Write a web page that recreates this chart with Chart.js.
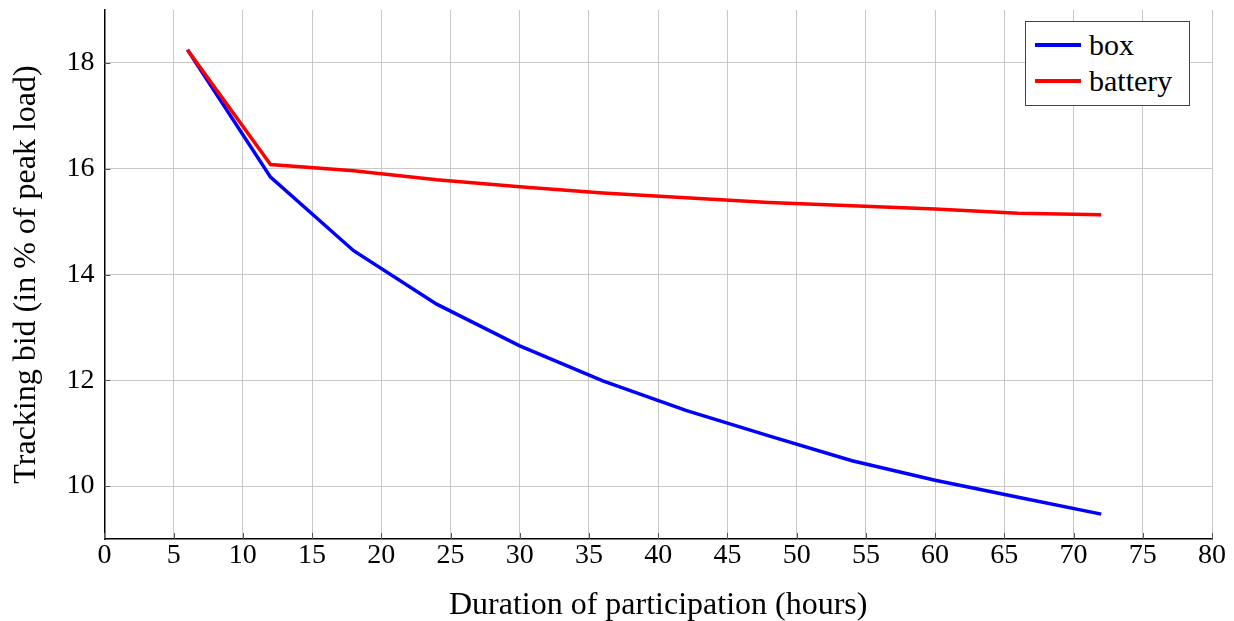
<!DOCTYPE html>
<html>
<head>
<meta charset="utf-8">
<script src="https://cdn.jsdelivr.net/npm/chart.js@4.4.1/dist/chart.umd.min.js"></script>
<style>
  body { margin:0; background:#fff; }
  #wrap { position:relative; width:1234px; height:621px; }
  #legend { position:absolute; left:1025px; top:21px; width:165px; height:85px; box-sizing:border-box;
            border:1px solid #444; background:#fff; padding:5px 0 0 9px;
            font-family:"Liberation Serif", serif; font-size:30px; color:#000; }
  #legend .row { display:flex; align-items:center; height:36px; }
  #legend .sw { width:46px; height:4px; margin-right:8px; }
</style>
</head>
<body>
<div id="wrap">
  <canvas id="chart"></canvas>
  <div id="legend"></div>
</div>
<script>
// hours of participation
const hours = [6, 12, 18, 24, 30, 36, 42, 48, 54, 60, 66, 72];
// tracking bid, % of peak load
const boxBid     = [18.25, 15.84, 14.45, 13.44, 12.65, 11.99, 11.43, 10.95, 10.48, 10.11, 9.79, 9.47];
const batteryBid = [18.25, 16.08, 15.96, 15.79, 15.66, 15.54, 15.45, 15.36, 15.30, 15.24, 15.16, 15.13];
const yTicks = [10, 12, 14, 16, 18];

const FONT = '"Liberation Serif", "Times New Roman", serif';

// inward tick marks, like pgfplots
const innerTicks = {
  id: 'innerTicks',
  afterDatasetsDraw(chart) {
    const { ctx, chartArea: a, scales: { x, y } } = chart;
    ctx.save();
    ctx.strokeStyle = '#555';
    ctx.lineWidth = 1;
    ctx.beginPath();
    x.ticks.forEach(t => { const px = Math.round(x.getPixelForValue(t.value)) + 0.5; ctx.moveTo(px, a.bottom); ctx.lineTo(px, a.bottom - 6); });
    y.ticks.forEach(t => { const py = Math.round(y.getPixelForValue(t.value)) + 0.5; ctx.moveTo(a.left, py); ctx.lineTo(a.left + 6, py); });
    ctx.stroke();
    ctx.restore();
  }
};

const chart = new Chart(document.getElementById('chart'), {
  type: 'line',
  data: {
    labels: hours,
    datasets: [
      { label: 'box', data: hours.map((h, i) => ({ x: h, y: boxBid[i] })), borderColor: '#0000ff', borderWidth: 3.5, pointRadius: 0, tension: 0, order: 1 },
      { label: 'battery', data: hours.map((h, i) => ({ x: h, y: batteryBid[i] })), borderColor: '#ff0000', borderWidth: 3.5, pointRadius: 0, tension: 0, order: 0 }
    ]
  },
  options: {
    responsive: true, maintainAspectRatio: false, animation: false,
    layout: { padding: { top: 10, right: 22, bottom: -4, left: 5 } },
    plugins: { legend: { display: false }, tooltip: { enabled: false } },
    scales: {
      x: {
        type: 'linear', min: 0, max: 80,
        ticks: { stepSize: 5, color: '#000', font: { family: FONT, size: 28 }, padding: 0 },
        grid: { color: '#c8c8c8', drawTicks: false },
        border: { color: '#000', width: 1.5 },
        title: { display: true, text: 'Duration of participation (hours)', color: '#000', font: { family: FONT, size: 32 }, padding: { top: 14, bottom: 0 } }
      },
      y: {
        min: 9, max: 19,
        afterBuildTicks: s => { s.ticks = yTicks.map(v => ({ value: v })); },
        afterFit: s => { s.paddingTop = 0; s.paddingBottom = 0; },
        ticks: { color: '#000', font: { family: FONT, size: 28 }, padding: 10 },
        grid: { color: '#c8c8c8', drawTicks: false },
        border: { color: '#000', width: 1.5 },
        title: { display: true, text: 'Tracking bid (in % of peak load)', color: '#000', font: { family: FONT, size: 32 }, padding: { top: 2, bottom: 11 } }
      }
    }
  },
  plugins: [innerTicks]
});

document.getElementById('legend').innerHTML = chart.data.datasets.map(d =>
  `<div class="row"><span class="sw" style="background:${d.borderColor}"></span>${d.label}</div>`).join('');
</script>
</body>
</html>
